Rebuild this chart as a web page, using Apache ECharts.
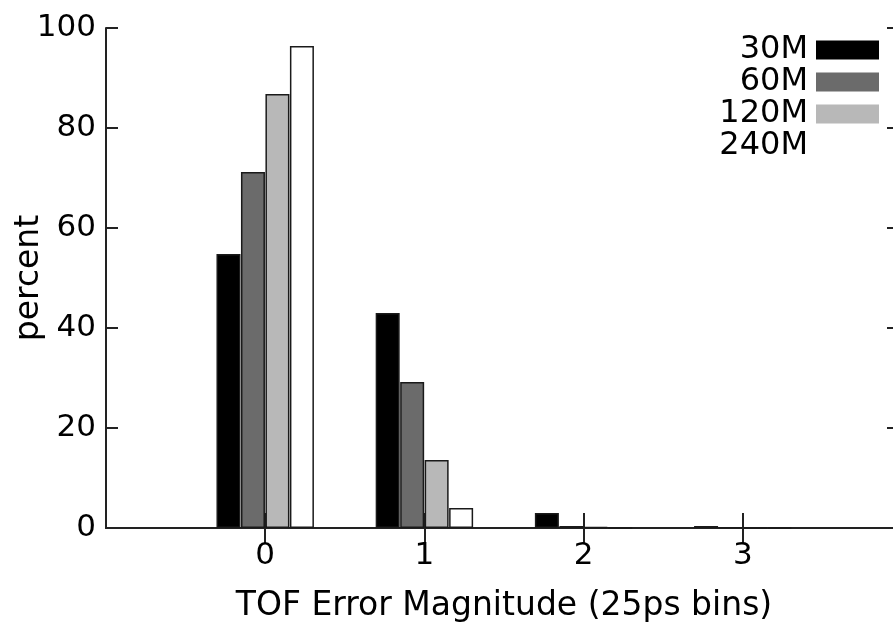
<!DOCTYPE html>
<html>
<head>
<meta charset="utf-8">
<script src="https://cdn.jsdelivr.net/npm/echarts@6/dist/echarts.min.js"></script>
<style>html,body{margin:0;padding:0;background:#fff}#c{width:893px;height:629px}</style>
</head>
<body>
<div id="c"></div>
<script>
// Category slots: -1 and 4 are empty padding slots at the plot edges
const categories = ['-1', '0', '1', '2', '3', '4'];
const shownLabels = ['0', '1', '2', '3'];
const seriesNames = ['30M', '60M', '120M', '240M'];
const v30M  = [null, 54.8, 43.0, 3.0, 0.4, null];
const v60M  = [null, 71.2, 29.2, 0.4, 0.1, null];
const v120M = [null, 86.8, 13.6, 0.2, 0.05, null];
const v240M = [null, 96.4, 4.0, 0.05, 0.02, null];
const yTicks = [0, 20, 40, 60, 80, 100];

const fills = ['#000000', '#6b6b6b', '#b8b8b8', '#ffffff'];
const values = [v30M, v60M, v120M, v240M];
const FONT = 'DejaVu Sans';
const tickOk = (i, v) => shownLabels.indexOf(String(v)) >= 0;

const chart = echarts.init(document.getElementById('c'), null, {renderer: 'canvas'});
chart.setOption({
  animation: false,
  backgroundColor: '#fff',
  grid: {left: 106, top: 28, width: 796, height: 500, containLabel: false, outerBoundsMode: 'none'},
  legend: {
    right: 14, top: 34, orient: 'vertical', align: 'right', padding: 0,
    itemWidth: 63, itemHeight: 19, itemGap: 0,
    icon: 'rect',
    textStyle: {fontFamily: FONT, fontSize: 32, color: '#000', lineHeight: 31.5, padding: [0, 3, 0, 0]},
    itemStyle: {borderWidth: 0},
    data: seriesNames
  },
  xAxis: [{
    type: 'category', data: categories, boundaryGap: false, position: 'bottom',
    axisLine: {lineStyle: {color: '#222', width: 2}},
    axisTick: {inside: true, length: 15, interval: tickOk, lineStyle: {color: '#222', width: 2}},
    axisLabel: {interval: tickOk, fontFamily: FONT, fontSize: 31, color: '#000', margin: 12},
    splitLine: {show: false},
    name: 'TOF Error Magnitude (25ps bins)', nameLocation: 'middle', nameGap: 62,
    nameMoveOverlap: false,
    nameTextStyle: {fontFamily: FONT, fontSize: 33, color: '#000'}
  }, {
    type: 'category', data: categories, boundaryGap: false, position: 'top',
    axisLine: {lineStyle: {color: '#222', width: 2}},
    axisTick: {inside: true, length: 15, interval: tickOk, lineStyle: {color: '#222', width: 2}},
    axisLabel: {show: false}, splitLine: {show: false}
  }],
  yAxis: [{
    type: 'value', min: 0, max: 100, interval: 20, position: 'left',
    axisLine: {show: true, lineStyle: {color: '#222', width: 2}},
    axisTick: {show: true, inside: true, length: 12, lineStyle: {color: '#222', width: 2}},
    axisLabel: {fontFamily: FONT, fontSize: 31, color: '#000', margin: 10,
      formatter: v => yTicks.indexOf(v) >= 0 ? String(v) : ''},
    splitLine: {show: false},
    name: 'percent', nameLocation: 'middle', nameGap: 60,
    nameMoveOverlap: false,
    nameTextStyle: {fontFamily: FONT, fontSize: 33, color: '#000'}
  }, {
    type: 'value', min: 0, max: 100, interval: 20, position: 'right',
    axisLine: {show: true, lineStyle: {color: '#222', width: 2}},
    axisTick: {show: true, inside: true, length: 15, lineStyle: {color: '#222', width: 2}},
    axisLabel: {show: false}, splitLine: {show: false}
  }],
  series: seriesNames.map((n, i) => ({
    name: n, type: 'bar', xAxisIndex: 0, yAxisIndex: 0,
    data: values[i],
    barWidth: 24, barGap: '2%',
    itemStyle: {color: fills[i], borderColor: '#1a1a1a', borderWidth: 1.5}
  }))
});
</script>
</body>
</html>
